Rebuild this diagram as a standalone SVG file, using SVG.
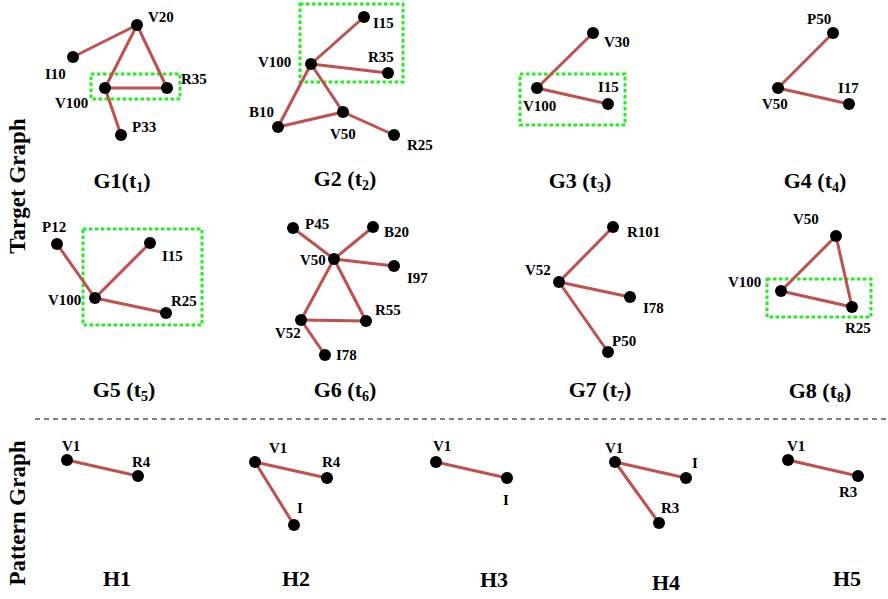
<svg xmlns="http://www.w3.org/2000/svg" width="888" height="599" viewBox="0 0 888 599">
<style>
.e{stroke:#c0504d;stroke-width:3;stroke-linecap:round;fill:none}
.n{fill:#000}
.l{font-family:"Liberation Serif",serif;font-weight:bold;font-size:15px;fill:#000}
.t{font-family:"Liberation Serif",serif;font-weight:bold;font-size:22px;fill:#000;text-anchor:middle}
.s{font-size:14px}
.hl{fill:none;stroke:#22ee22;stroke-width:3;stroke-dasharray:3.5 2.5}
.side{font-family:"Liberation Serif",serif;font-weight:bold;font-size:23px;fill:#000}
</style>
<rect width="888" height="599" fill="#fff"/>
<g id="side-labels">
<text class="side" transform="translate(25,186) rotate(-90)" text-anchor="middle">Target Graph</text>
<text class="side" transform="translate(25,513) rotate(-90)" text-anchor="middle">Pattern Graph</text>
</g>
<line x1="35" y1="419" x2="886" y2="419" stroke="#000" stroke-width="1.2" stroke-dasharray="5 4"/>
<g id="highlights">
<rect class="hl" x="91" y="74" width="89" height="25"/>
<rect class="hl" x="300" y="4" width="103" height="78"/>
<rect class="hl" x="520" y="74" width="105" height="51"/>
<rect class="hl" x="83" y="229" width="119" height="96"/>
<rect class="hl" x="767" y="279" width="104" height="38"/>
</g>
<g id="connectors">
<line class="e" x1="137" y1="25" x2="73" y2="57"/>
<line class="e" x1="137" y1="25" x2="105" y2="88"/>
<line class="e" x1="137" y1="25" x2="167" y2="88"/>
<line class="e" x1="105" y1="88" x2="167" y2="88"/>
<line class="e" x1="105" y1="88" x2="121" y2="135"/>
<line class="e" x1="311" y1="64" x2="364" y2="17"/>
<line class="e" x1="311" y1="64" x2="388" y2="73"/>
<line class="e" x1="311" y1="64" x2="278" y2="127"/>
<line class="e" x1="311" y1="64" x2="343" y2="112"/>
<line class="e" x1="278" y1="127" x2="343" y2="112"/>
<line class="e" x1="343" y1="112" x2="394" y2="135"/>
<line class="e" x1="537" y1="88" x2="593" y2="33"/>
<line class="e" x1="537" y1="88" x2="608" y2="104"/>
<line class="e" x1="778" y1="88" x2="833" y2="33"/>
<line class="e" x1="778" y1="88" x2="849" y2="104"/>
<line class="e" x1="95" y1="298" x2="57" y2="244"/>
<line class="e" x1="95" y1="298" x2="150" y2="243"/>
<line class="e" x1="95" y1="298" x2="166" y2="313"/>
<line class="e" x1="334" y1="259" x2="293" y2="228"/>
<line class="e" x1="334" y1="259" x2="373" y2="227"/>
<line class="e" x1="334" y1="259" x2="394" y2="266"/>
<line class="e" x1="334" y1="259" x2="301" y2="320"/>
<line class="e" x1="334" y1="259" x2="366" y2="321"/>
<line class="e" x1="301" y1="320" x2="366" y2="321"/>
<line class="e" x1="301" y1="320" x2="325" y2="355"/>
<line class="e" x1="559" y1="282" x2="613" y2="227"/>
<line class="e" x1="559" y1="282" x2="630" y2="297"/>
<line class="e" x1="559" y1="282" x2="608" y2="352"/>
<line class="e" x1="836" y1="236" x2="781" y2="291"/>
<line class="e" x1="836" y1="236" x2="852" y2="307"/>
<line class="e" x1="781" y1="291" x2="852" y2="307"/>
<line class="e" x1="67" y1="460" x2="138" y2="476"/>
<line class="e" x1="255" y1="462" x2="327" y2="478"/>
<line class="e" x1="255" y1="462" x2="294" y2="525"/>
<line class="e" x1="436" y1="462" x2="507" y2="478"/>
<line class="e" x1="615" y1="462" x2="686" y2="478"/>
<line class="e" x1="615" y1="462" x2="659" y2="523"/>
<line class="e" x1="788" y1="460" x2="858" y2="476"/>
</g>
<g id="g1-v20"><circle class="n" cx="137" cy="25" r="6"/><text class="l" x="148" y="22">V20</text></g>
<g id="g1-i10"><circle class="n" cx="73" cy="57" r="6"/><text class="l" x="45" y="79">I10</text></g>
<g id="g1-v100"><circle class="n" cx="105" cy="88" r="6"/><text class="l" x="55" y="108">V100</text></g>
<g id="g1-r35"><circle class="n" cx="167" cy="88" r="6"/><text class="l" x="181" y="84">R35</text></g>
<g id="g1-p33"><circle class="n" cx="121" cy="135" r="6"/><text class="l" x="132" y="132">P33</text></g>
<g id="g2-v100"><circle class="n" cx="311" cy="64" r="6"/><text class="l" x="258" y="67">V100</text></g>
<g id="g2-i15"><circle class="n" cx="364" cy="17" r="6"/><text class="l" x="373" y="28">I15</text></g>
<g id="g2-r35"><circle class="n" cx="388" cy="73" r="6"/><text class="l" x="368" y="62">R35</text></g>
<g id="g2-b10"><circle class="n" cx="278" cy="127" r="6"/><text class="l" x="249" y="117">B10</text></g>
<g id="g2-v50"><circle class="n" cx="343" cy="112" r="6"/><text class="l" x="330" y="139">V50</text></g>
<g id="g2-r25"><circle class="n" cx="394" cy="135" r="6"/><text class="l" x="407" y="150">R25</text></g>
<g id="g3-v30"><circle class="n" cx="593" cy="33" r="6"/><text class="l" x="604" y="47">V30</text></g>
<g id="g3-v100"><circle class="n" cx="537" cy="88" r="6"/><text class="l" x="523" y="111">V100</text></g>
<g id="g3-i15"><circle class="n" cx="608" cy="104" r="6"/><text class="l" x="598" y="92">I15</text></g>
<g id="g4-p50"><circle class="n" cx="833" cy="33" r="6"/><text class="l" x="807" y="24">P50</text></g>
<g id="g4-v50"><circle class="n" cx="778" cy="88" r="6"/><text class="l" x="762" y="109">V50</text></g>
<g id="g4-i17"><circle class="n" cx="849" cy="104" r="6"/><text class="l" x="838" y="93">I17</text></g>
<g id="g5-p12"><circle class="n" cx="57" cy="244" r="6"/><text class="l" x="42" y="232">P12</text></g>
<g id="g5-v100"><circle class="n" cx="95" cy="298" r="6"/><text class="l" x="48" y="305">V100</text></g>
<g id="g5-i15"><circle class="n" cx="150" cy="243" r="6"/><text class="l" x="162" y="261">I15</text></g>
<g id="g5-r25"><circle class="n" cx="166" cy="313" r="6"/><text class="l" x="171" y="306">R25</text></g>
<g id="g6-p45"><circle class="n" cx="293" cy="228" r="6"/><text class="l" x="305" y="229">P45</text></g>
<g id="g6-b20"><circle class="n" cx="373" cy="227" r="6"/><text class="l" x="384" y="237">B20</text></g>
<g id="g6-v50"><circle class="n" cx="334" cy="259" r="6"/><text class="l" x="300" y="265">V50</text></g>
<g id="g6-i97"><circle class="n" cx="394" cy="266" r="6"/><text class="l" x="407" y="283">I97</text></g>
<g id="g6-r55"><circle class="n" cx="366" cy="321" r="6"/><text class="l" x="375" y="315">R55</text></g>
<g id="g6-v52"><circle class="n" cx="301" cy="320" r="6"/><text class="l" x="275" y="338">V52</text></g>
<g id="g6-i78"><circle class="n" cx="325" cy="355" r="6"/><text class="l" x="336" y="360">I78</text></g>
<g id="g7-r101"><circle class="n" cx="613" cy="227" r="6"/><text class="l" x="627" y="237">R101</text></g>
<g id="g7-v52"><circle class="n" cx="559" cy="282" r="6"/><text class="l" x="525" y="275">V52</text></g>
<g id="g7-i78"><circle class="n" cx="630" cy="297" r="6"/><text class="l" x="643" y="313">I78</text></g>
<g id="g7-p50"><circle class="n" cx="608" cy="352" r="6"/><text class="l" x="612" y="346">P50</text></g>
<g id="g8-v50"><circle class="n" cx="836" cy="236" r="6"/><text class="l" x="793" y="224">V50</text></g>
<g id="g8-v100"><circle class="n" cx="781" cy="291" r="6"/><text class="l" x="728" y="287">V100</text></g>
<g id="g8-r25"><circle class="n" cx="852" cy="307" r="6"/><text class="l" x="845" y="333">R25</text></g>
<g id="h1-v1"><circle class="n" cx="67" cy="460" r="6"/><text class="l" x="62" y="451">V1</text></g>
<g id="h1-r4"><circle class="n" cx="138" cy="476" r="6"/><text class="l" x="132" y="467">R4</text></g>
<g id="h2-v1"><circle class="n" cx="255" cy="462" r="6"/><text class="l" x="269" y="453">V1</text></g>
<g id="h2-r4"><circle class="n" cx="327" cy="478" r="6"/><text class="l" x="322" y="467">R4</text></g>
<g id="h2-i"><circle class="n" cx="294" cy="525" r="6"/><text class="l" x="297" y="513">I</text></g>
<g id="h3-v1"><circle class="n" cx="436" cy="462" r="6"/><text class="l" x="433" y="451">V1</text></g>
<g id="h3-i"><circle class="n" cx="507" cy="478" r="6"/><text class="l" x="503" y="505">I</text></g>
<g id="h4-v1"><circle class="n" cx="615" cy="462" r="6"/><text class="l" x="605" y="453">V1</text></g>
<g id="h4-i"><circle class="n" cx="686" cy="478" r="6"/><text class="l" x="692" y="468">I</text></g>
<g id="h4-r3"><circle class="n" cx="659" cy="523" r="6"/><text class="l" x="661" y="513">R3</text></g>
<g id="h5-v1"><circle class="n" cx="788" cy="460" r="6"/><text class="l" x="787" y="451">V1</text></g>
<g id="h5-r3"><circle class="n" cx="858" cy="476" r="6"/><text class="l" x="839" y="497">R3</text></g>
<g id="titles">
<text class="t" x="122" y="188">G1(t<tspan class="s" dy="4">1</tspan><tspan dy="-4">)</tspan></text>
<text class="t" x="345" y="186">G2 (t<tspan class="s" dy="4">2</tspan><tspan dy="-4">)</tspan></text>
<text class="t" x="580" y="188">G3 (t<tspan class="s" dy="4">3</tspan><tspan dy="-4">)</tspan></text>
<text class="t" x="815" y="188">G4 (t<tspan class="s" dy="4">4</tspan><tspan dy="-4">)</tspan></text>
<text class="t" x="124" y="397">G5 (t<tspan class="s" dy="4">5</tspan><tspan dy="-4">)</tspan></text>
<text class="t" x="345" y="397">G6 (t<tspan class="s" dy="4">6</tspan><tspan dy="-4">)</tspan></text>
<text class="t" x="600" y="397">G7 (t<tspan class="s" dy="4">7</tspan><tspan dy="-4">)</tspan></text>
<text class="t" x="820" y="398">G8 (t<tspan class="s" dy="4">8</tspan><tspan dy="-4">)</tspan></text>
<text class="t" x="117" y="586">H1</text>
<text class="t" x="296" y="586">H2</text>
<text class="t" x="494" y="587">H3</text>
<text class="t" x="666" y="590">H4</text>
<text class="t" x="847" y="586">H5</text>
</g>
</svg>
